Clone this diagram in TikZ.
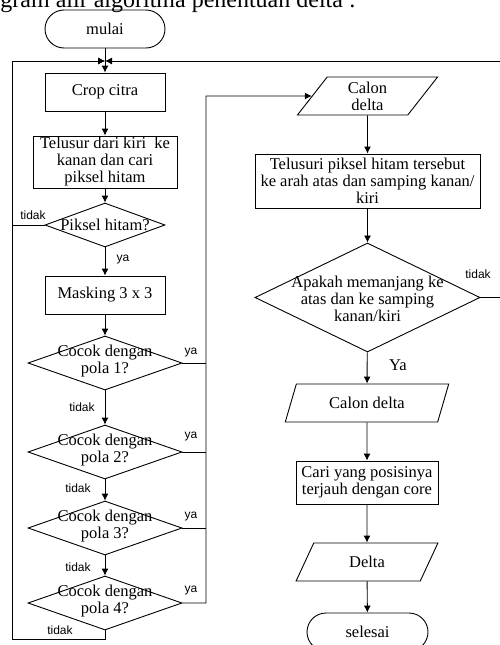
\documentclass[tikz,border=0pt]{standalone}
\usepackage{fontspec}
\setmainfont{Liberation Serif}
\setsansfont{Liberation Sans}
\usetikzlibrary{shapes.geometric, arrows.meta, positioning}

\begin{document}
\begin{tikzpicture}[x=1pt, y=-1pt, line width=0.9pt,
        every node/.style={font=\fontsize{16.5}{17}\selectfont},
        proc/.style={draw, minimum height=38, inner sep=0pt, align=center},
        term/.style={draw, rounded corners=19, minimum width=120, minimum height=38, inner sep=0pt},
        io/.style={draw, trapezium, trapezium left angle=63, trapezium right angle=117,
            trapezium stretches=true, minimum height=38, inner sep=0pt, align=center},
        decision/.style={draw, diamond, inner sep=0pt},
        lbl/.style={font=\sffamily\fontsize{12}{12}\selectfont, inner sep=0pt},
        line/.style={-{Latex[length=7pt, width=7pt]}}]
        \useasboundingbox (0,0) rectangle (499,645);

        % Title (cut off at the top)
        \node[anchor=base west, inner sep=0pt, font=\fontsize{24}{24}\selectfont] (judul) at (0,7) {gram alir algoritma penentuan delta :};

        % Left column
        \node[term] (mulai) at (105,29) {mulai};
        \node[proc, minimum width=120] (crop) at (105,92) {Crop citra};
        \node[proc, minimum width=144, minimum height=52] (telusur) at (105,162) {Telusur dari kiri\ \ ke\\kanan dan cari\\piksel hitam};
        \node[decision, minimum width=120, minimum height=44, label={[name=tpiksel]center:Piksel hitam?}] (piksel) at (105,225) {};
        \node[proc, minimum width=120] (mask) at (105,295) {Masking 3 x 3};

        % Patterns
        \foreach \i/\y in {1/363, 2/452, 3/528, 4/603} {
            \node[decision, minimum width=154, minimum height=54,
                label={[name=tpola\i, align=center, yshift=2pt]center:Cocok dengan\\pola \i?}] (pola\i) at (105,\y) {};
        }

        % Right column
        \node[io, minimum width=141] (calon1) at (367.5,96) {Calon\\delta};
        \node[proc, minimum width=225, minimum height=54] (telusuri) at (367.5,181) {Telusuri piksel hitam tersebut\\ke arah atas dan samping kanan/\\kiri};
        \node[decision, minimum width=225, minimum height=109,
            label={[name=tmemanjang, align=center, yshift=-1pt]center:Apakah memanjang ke\\atas dan ke samping\\kanan/kiri}] (memanjang) at (367.5,297.5) {};
        \node[io, minimum width=164] (calon2) at (367,403) {Calon delta};
        \node[proc, minimum width=142, minimum height=43] (cari) at (367,482.5) {Cari yang posisinya\\terjauh dengan core};
        \node[io, minimum width=142] (delta) at (367,562) {Delta};
        \node[term, minimum width=121] (selesai) at (367.5,632) {selesai};

        % Loop points
        \coordinate (merge) at (105,61);
        \coordinate (loopL) at (12,61);
        \coordinate (loopR) at (507,61);
        \coordinate (bus) at (206,96);

        % Arrows
        \draw[line] (mulai) -- (crop);
        \draw[line] (crop) -- (telusur);
        \draw[line] (telusur) -- (piksel);
        \draw[line] (piksel) -- (mask);
        \draw[line] (mask) -- (pola1);
        \foreach \a/\b in {1/2, 2/3, 3/4} {
            \draw[line] (pola\a) -- (pola\b);
        }
        \draw[line] (piksel.west) -| (loopL) -- (merge);
        \draw[line] (pola4.south) -- ++(0,9) -| (loopL) -- (merge);
        \foreach \i in {1,2,3} {
            \draw (pola\i.east) -- (pola\i.east -| bus);
        }
        \draw[line] (pola4.east) -| (bus) -- (calon1.west);
        \draw[line] (calon1) -- (telusuri);
        \draw[line] (telusuri) -- (memanjang);
        \draw[line] (memanjang.east) -| (loopR) -- (merge);
        \draw[line] (memanjang) -- (calon2);
        \draw[line] (calon2) -- (cari);
        \draw[line] (cari) -- (delta);
        \draw[line] (delta) -- (selesai);

        % Labels
        \node[lbl] (ya0) at (123,260) {ya};
        \node[lbl] (tidak0) at (33,215) {tidak};
        \foreach \i/\y in {1/353, 2/437, 3/517, 4/591} {
            \node[lbl] (ya\i) at (191,\y) {ya};
        }
        \foreach \i/\x/\y in {1/82/407, 2/78/488, 3/78/567, 4/60/630} {
            \node[lbl] (tidak\i) at (\x,\y) {tidak};
        }
        \node[lbl] (tidak5) at (478,274) {tidak};
        \node (ya5) at (398,365) {Ya};
\end{tikzpicture}
\end{document}
